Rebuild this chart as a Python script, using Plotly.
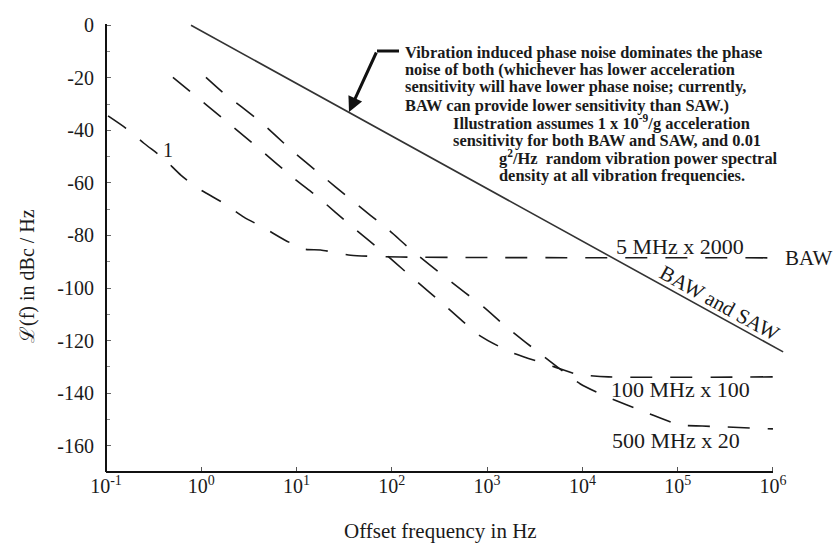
import plotly.graph_objects as go

# ---------------- data ----------------
solid_f = [0.78, 1.28e6]
solid_db = [0.0, -124.3]

baw5_f = [0.105, 0.162, 0.25, 0.40, 0.61, 0.92, 1.77, 2.8, 4.6, 7.5, 12.2, 17.9, 37, 123, 1000, 1.0e6]
baw5_db = [-34.5, -39.2, -44.9, -50.6, -57.0, -62.0, -68.0, -73.0, -77.2, -81.7, -85.2, -85.5, -87.5, -88.2, -88.4, -88.5]

m100_f = [0.504, 0.78, 1.68, 4.0, 9.35, 16.7, 38.8, 90.4, 161, 375, 852, 1758, 5090, 8500, 18800, 1.0e6]
m100_db = [-19.8, -25.5, -35.4, -46.8, -58.2, -65.4, -76.8, -87.8, -95.8, -107.2, -118.3, -124.3, -130.0, -132.7, -133.8, -133.8]

m500_f = [1.12, 1.68, 4.1, 9.35, 16.7, 38.8, 92.5, 161, 385, 916, 1637, 3900, 9530, 17400, 48000, 106000, 181000, 1.0e6]
m500_db = [-19.8, -25.5, -36.5, -48.3, -55.9, -66.9, -77.9, -85.6, -96.6, -107.2, -115.2, -125.9, -136.5, -141.1, -147.5, -152.1, -152.5, -153.6]

x_tickvals = [0.1, 1, 10, 100, 1000, 1e4, 1e5, 1e6]
x_ticktext = ["10<sup>-1</sup>", "10<sup>0</sup>", "10<sup>1</sup>", "10<sup>2</sup>",
              "10<sup>3</sup>", "10<sup>4</sup>", "10<sup>5</sup>", "10<sup>6</sup>"]
y_tickvals = [0, -20, -40, -60, -80, -100, -120, -140, -160]
y_ticktext = ["0", "-20", "-40", "-60", "-80", "-100", "-120", "-140", "-160"]
y_minor = [-10, -30, -50, -70, -90, -110, -130, -150]

note_lines = [
    "Vibration induced phase noise dominates the phase",
    "noise of both (whichever has lower acceleration",
    "sensitivity will have lower phase noise; currently,",
    "BAW can provide lower sensitivity than SAW.)",
    "Illustration assumes 1 x 10<sup>-9</sup>/g acceleration",
    "sensitivity for both BAW and SAW, and 0.01",
    "g<sup>2</sup>/Hz  random vibration power spectral",
    "density at all vibration frequencies.",
]

# ---------------- layout geometry ----------------
W, H = 833, 550
L, R, T, B = 106, 41, 20, 78
PW, PH = W - L - R, H - T - B

def px(xp):
    return (xp - L) / PW

def py(yp):
    return (H - B - yp) / PH

SERIF = "Liberation Serif, Times New Roman, serif"
INK = "#1a1a1a"
dash = "22px,18px"

fig = go.Figure()
fig.add_trace(go.Scatter(x=solid_f, y=solid_db, mode="lines",
                         line=dict(color="#333333", width=1.6), showlegend=False))
for fx, dbv in [(baw5_f, baw5_db), (m100_f, m100_db), (m500_f, m500_db)]:
    fig.add_trace(go.Scatter(x=fx, y=dbv, mode="lines",
                             line=dict(color=INK, width=1.6, dash=dash, shape="spline", smoothing=0.6),
                             showlegend=False))

annotations = []
note_pos = [(403, 52), (403, 69.5), (403, 87), (403, 105),
            (451, 122), (451, 140), (497, 157), (497, 175)]
for t, (xx, yy) in zip(note_lines, note_pos):
    annotations.append(dict(text="<b>" + t + "</b>", x=px(xx), y=py(yy), xref="paper", yref="paper",
                            xanchor="left", yanchor="middle", showarrow=False,
                            font=dict(family=SERIF, size=16.4, color=INK)))
# arrow (tail offset in pixels)
annotations.append(dict(x=px(349), y=py(112), ax=377 - 349, ay=51 - 112, xref="paper", yref="paper",
                        text="", showarrow=True, arrowhead=2, arrowsize=1, arrowwidth=3,
                        arrowcolor="#111111", standoff=0))

labels = [
    ("5 MHz x 2000", 680, 246, "center", 0, 22),
    ("BAW", 783, 258, "left", 0, 21),
    ("BAW and SAW", 719, 303, "center", 29, 21),
    ("100 MHz x 100", 680, 389, "center", 0, 22),
    ("500 MHz x 20", 676, 440, "center", 0, 22),
    ("1", 168, 150, "center", 0, 20),
]
for t, xx, yy, anc, ang, sz in labels:
    annotations.append(dict(text=t, x=px(xx), y=py(yy), xref="paper", yref="paper",
                            xanchor=anc, yanchor="middle", showarrow=False, textangle=ang,
                            font=dict(family=SERIF, size=sz, color=INK)))
annotations.append(dict(text="Offset frequency in Hz", x=px(440), y=py(531), xref="paper", yref="paper",
                        xanchor="center", yanchor="middle", showarrow=False,
                        font=dict(family=SERIF, size=21, color=INK)))
annotations.append(dict(text="ℒ(f) in dBc / Hz", x=px(27), y=py(276), xref="paper", yref="paper",
                        xanchor="center", yanchor="middle", showarrow=False, textangle=-90,
                        font=dict(family=SERIF, size=20, color=INK)))

shapes = [
    dict(type="line", xref="paper", yref="paper", x0=0, x1=0, y0=0, y1=py(24),
         line=dict(color="#111111", width=2)),
    dict(type="line", xref="paper", yref="paper", x0=0, x1=px(773), y0=0, y1=0,
         line=dict(color="#111111", width=2)),
    dict(type="line", xref="paper", yref="paper", x0=px(377), x1=px(399), y0=py(51), y1=py(51),
         line=dict(color="#111111", width=3)),
]

fig.update_layout(
    width=W, height=H,
    margin=dict(l=L, r=R, t=T, b=B, autoexpand=False),
    paper_bgcolor="white", plot_bgcolor="white",
    annotations=annotations, shapes=shapes,
    xaxis=dict(type="log", range=[-1, 6.2], showgrid=False, zeroline=False, showline=False,
               automargin=False,
               tickmode="array", tickvals=x_tickvals, ticktext=x_ticktext,
               ticks="inside", ticklen=5, tickcolor="#555555", tickwidth=1,
               tickfont=dict(family=SERIF, size=20, color=INK)),
    yaxis=dict(range=[-170, 2], showgrid=False, zeroline=False, showline=False,
               automargin=False,
               tickmode="array", tickvals=y_tickvals, ticktext=y_ticktext,
               ticks="inside", ticklen=5, tickcolor="#666666", tickwidth=1,
               minor=dict(tickvals=y_minor, ticks="inside", ticklen=4, tickcolor="#888888"),
               ticklabelstandoff=11,
               tickfont=dict(family=SERIF, size=20, color=INK)),
)

fig.write_html("out.html", config={"displayModeBar": False},
               post_script="document.body.style.margin='0px';document.body.style.padding='0px';")
